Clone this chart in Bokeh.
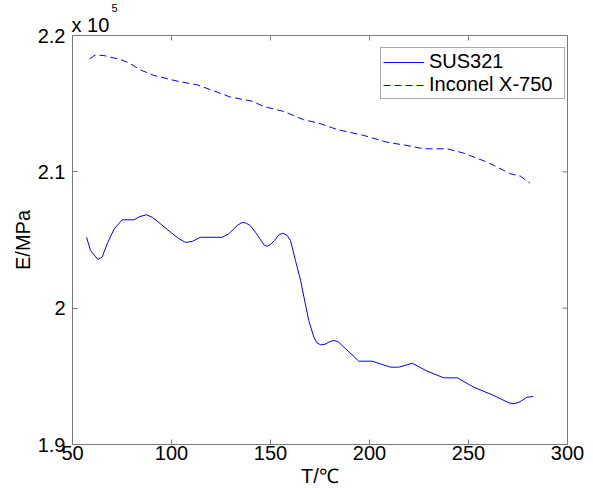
import math
from bokeh.plotting import figure
from bokeh.models import FixedTicker, CustomJSTickFormatter, Range1d, Title, ColumnDataSource
from bokeh.embed import file_html
from bokeh.resources import INLINE

# ---- data (E in units of 1e5 MPa) ----
sus_T = [57.1, 59.1, 62.8, 65.0, 67.5, 71.0, 75.1, 81.0, 84.0, 87.4, 90.5, 94.4,
         99.5, 103.5, 107.1, 110.5, 114.6, 125.6, 128.9, 133.2, 135.5, 137.4,
         139.8, 142.4, 145.8, 146.8, 148.3, 150.0, 152.0, 154.2, 156.2, 158.3,
         160.1, 162.6, 165.2, 169.3, 171.9, 173.5, 175.3, 177.5, 180.0, 182.0,
         184.0, 186.2, 194.6, 201.4, 210.6, 214.8, 221.6, 229.1, 237.5, 244.3,
         252.7, 262.8, 270.5, 272.9, 275.5, 279.6, 282.7]
sus_E = [2.052, 2.0423, 2.0357, 2.0375, 2.0472, 2.058, 2.0648, 2.0648, 2.0672,
         2.0685, 2.0665, 2.0619, 2.0557, 2.0512, 2.0482, 2.049, 2.052, 2.052,
         2.0545, 2.0606, 2.0628, 2.0626, 2.0605, 2.0557, 2.0484, 2.0462, 2.0454,
         2.0468, 2.0496, 2.0537, 2.055, 2.0535, 2.0496, 2.035, 2.0203, 1.991,
         1.9787, 1.9745, 1.9731, 1.9735, 1.9755, 1.9763, 1.9755, 1.9726, 1.9611,
         1.9611, 1.9567, 1.9567, 1.9596, 1.9538, 1.9489, 1.9489, 1.942, 1.9359,
         1.9305, 1.9299, 1.931, 1.9347, 1.9352]

inc_T = [58.7, 61.6, 65.8, 74.2, 78.4, 84.3, 91.1, 102.9, 113.0, 123.1, 129.8,
         140.8, 146.6, 156.7, 166.8, 174.4, 183.7, 197.1, 208.9, 219.0, 227.4,
         239.2, 247.6, 259.4, 271.2, 276.3, 281.0]
inc_E = [2.1829, 2.1858, 2.1853, 2.1824, 2.18, 2.1748, 2.1707, 2.1665, 2.1638,
         2.1584, 2.1548, 2.1518, 2.1479, 2.1443, 2.1382, 2.1357, 2.131, 2.1267,
         2.1217, 2.1193, 2.1169, 2.1169, 2.1137, 2.1071, 2.0986, 2.0968, 2.0917]

x_ticks = [50, 100, 150, 200, 250, 300]
y_ticks = [1.9, 2.0, 2.1, 2.2]
x_lim = (50, 300)
y_lim = (1.9, 2.2)
series_names = ["SUS321", "Inconel X-750"]
x_title = "T/℃"
y_title = "E/MPa"
exp_base = "x 10"
exp_power = "5"

FONT = "Liberation Sans"
FRAME_COL = "#7a7a7a"

p = figure(width=593, height=494, x_range=Range1d(*x_lim), y_range=Range1d(*y_lim),
           output_backend="svg", toolbar_location=None,
           min_border_left=72, min_border_right=26, min_border_top=35, min_border_bottom=50)
p.background_fill_color = "white"
p.border_fill_color = "white"
p.outline_line_color = FRAME_COL
p.outline_line_width = 1
p.xgrid.visible = False
p.ygrid.visible = False

p.line(sus_T, sus_E, line_color="#0000ff", line_width=1, legend_label=series_names[0])
p.line(inc_T, inc_E, line_color="#0000ff", line_width=1, line_dash="7 4",
       legend_label=series_names[1])

# inner ticks on the top and right edges (MATLAB box style)
top_src = ColumnDataSource(dict(x=x_ticks, y=[y_lim[1]] * len(x_ticks)))
p.ray(x="x", y="y", source=top_src, length=5, length_units="screen", angle=-math.pi / 2,
      line_color=FRAME_COL, line_width=1)
right_src = ColumnDataSource(dict(x=[x_lim[1]] * len(y_ticks), y=y_ticks))
p.ray(x="x", y="y", source=right_src, length=5, length_units="screen", angle=math.pi,
      line_color=FRAME_COL, line_width=1)

def style(ax):
    ax.axis_line_color = FRAME_COL
    ax.major_tick_line_color = FRAME_COL
    ax.major_tick_in = 5
    ax.major_tick_out = 0
    ax.minor_tick_line_color = None
    ax.major_label_text_font = FONT
    ax.major_label_text_color = "black"
    ax.major_label_text_font_size = "20px"
    ax.axis_label_text_font = FONT
    ax.axis_label_text_font_size = "20px"
    ax.axis_label_text_font_style = "normal"
    ax.axis_label_text_color = "black"

xb = p.xaxis[0]
xb.ticker = FixedTicker(ticks=x_ticks)
style(xb)
xb.major_label_standoff = 1
xb.axis_label = x_title
xb.axis_label_standoff = 2

yl = p.yaxis[0]
yl.ticker = FixedTicker(ticks=y_ticks)
yl.formatter = CustomJSTickFormatter(code="return String(Math.round(tick*10)/10);")
style(yl)
yl.major_label_standoff = 7
yl.axis_label = y_title
yl.axis_label_standoff = 1

# exponent "x 10^5" above the top-left corner
t1 = Title(text=exp_base, align="left", offset=-1, standoff=0, text_font=FONT,
           text_font_size="20px", text_font_style="normal", text_color="black")
t2 = Title(text=exp_power, align="left", offset=39, standoff=0, text_font=FONT,
           text_font_size="11px", text_font_style="normal", text_color="black")
p.add_layout(t1, "above")
p.add_layout(t2, "above")

lg = p.legend[0]
lg.location = (308, 345)
lg.margin = 0
lg.padding = 2
lg.spacing = 0
lg.glyph_width = 41
lg.glyph_height = 22
lg.label_height = 22
lg.label_width = 133
lg.label_standoff = 5
lg.label_text_font = FONT
lg.label_text_font_size = "20px"
lg.label_text_color = "black"
lg.border_line_color = "#555555"
lg.border_line_width = 1
lg.background_fill_color = "white"
lg.background_fill_alpha = 1.0

open("out.html", "w").write(file_html(p, INLINE))
